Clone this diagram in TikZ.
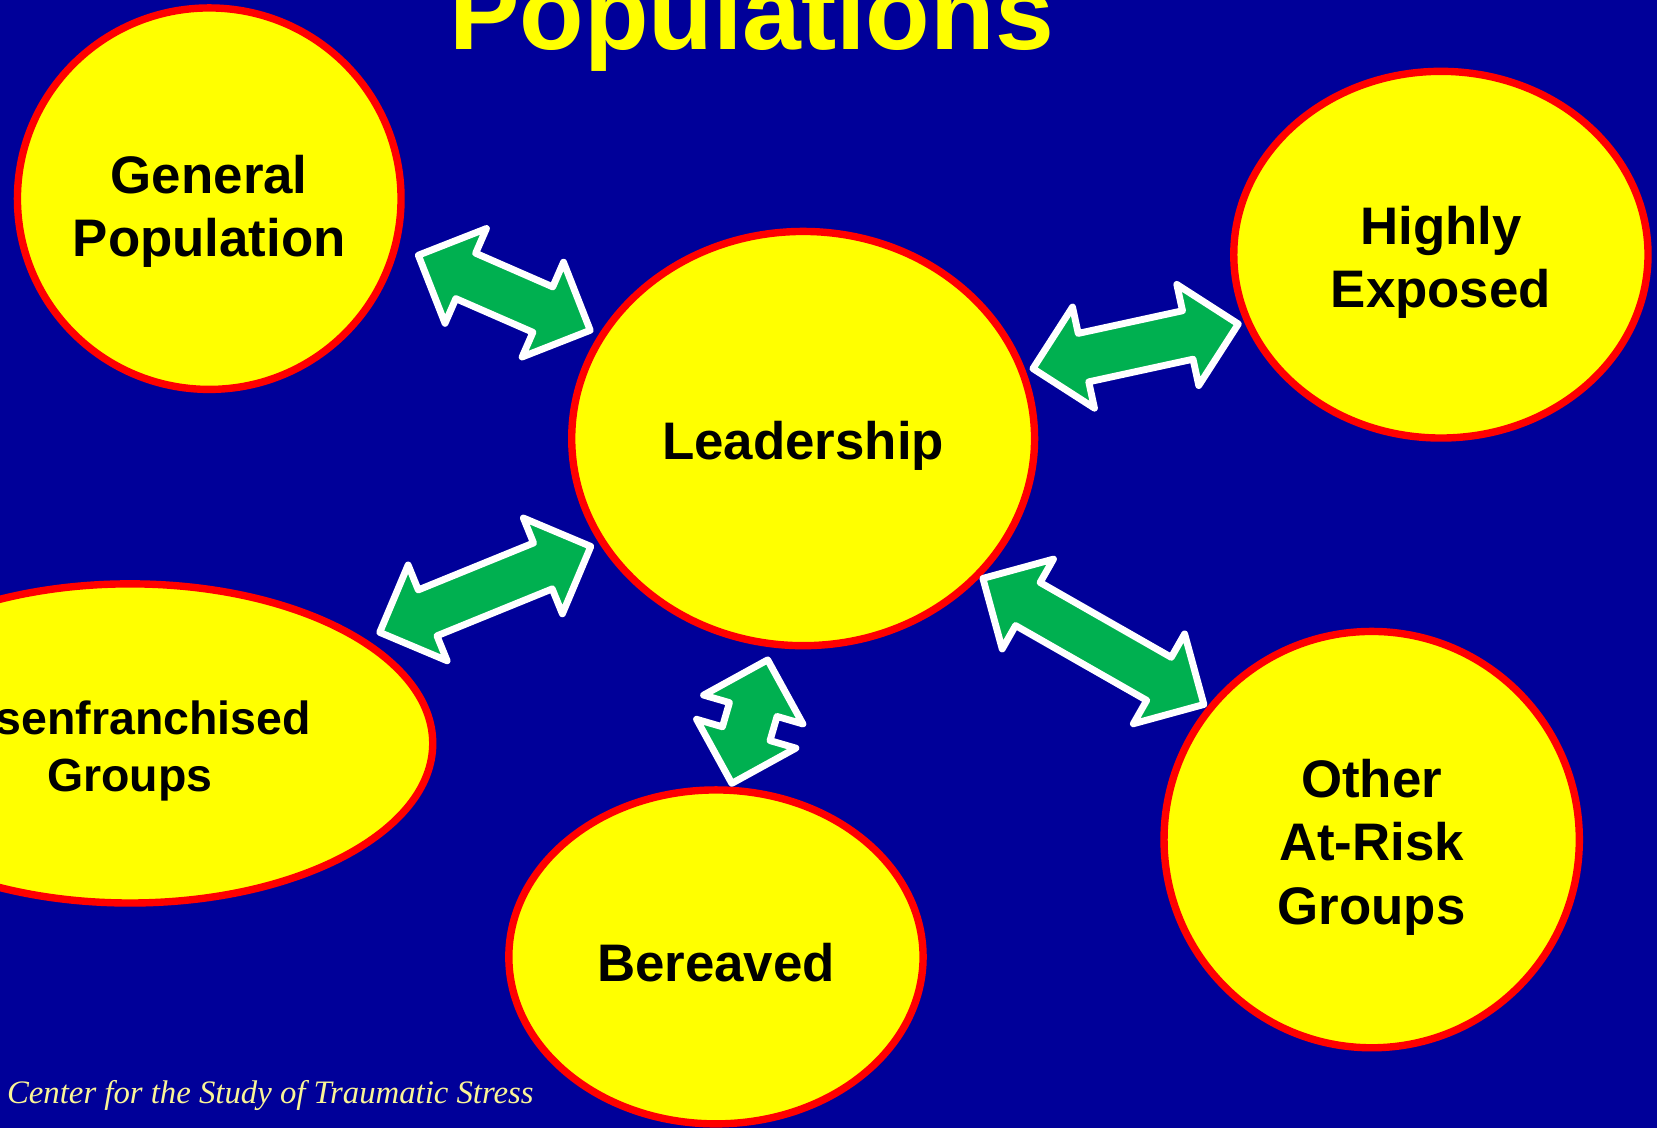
\documentclass[tikz,border=0pt]{standalone}
\usepackage{fontspec}
\setmainfont{Liberation Sans}
\newfontfamily\creditfont{Liberation Serif}
\usetikzlibrary{shapes.geometric,shapes.arrows,calc}

\definecolor{slideblue}{RGB}{0,0,153}
\definecolor{popyellow}{RGB}{255,255,0}
\definecolor{popred}{RGB}{255,0,0}
\definecolor{popgreen}{RGB}{0,176,80}
\definecolor{creditcream}{RGB}{250,245,150}

\tikzset{
  pop/.style={ellipse, fill=popyellow, draw=popred, line width=7pt,
    inner sep=0pt, outer sep=0pt},
  poptext/.style={inner sep=0pt, align=center,
    font=\bfseries\fontsize{50}{60}\selectfont},
  twoway/.style={double arrow, double arrow head extend=25.5pt,
    text height=20.2pt, text depth=20.2pt, inner sep=0pt,
    fill=popgreen, draw=white, line width=6.5pt, line join=round}
}

\begin{document}
\begin{tikzpicture}[x=1pt, y=-1pt]

  \newcommand\Twoway[2]{%
    \path let \p1=(#1), \p2=(#2),
      \n1={atan2(\y2-\y1,\x2-\x1)}, \n2={veclen(\x2-\x1,\y2-\y1)} in
      node[twoway, rotate=\n1, minimum height={\n2-6.5}] at ($(\p1)!0.5!(\p2)$) {};}

  \useasboundingbox (0,0) rectangle (1568,1067);
  \fill[slideblue] (0,0) rectangle (1568,1067);

  % title, cut by the top edge
  \node[anchor=base, text=popyellow, font=\bfseries\fontsize{100}{120}\selectfont] (title) at (711,47) {Populations};

  % populations
  \node[pop, minimum width=363, minimum height=361] (gen) at (198,188) {};
  \node[pop, minimum width=438, minimum height=392] (lead) at (760,415) {};
  \node[pop, minimum width=392, minimum height=347] (high) at (1363.5,241) {};
  \node[pop, minimum width=573, minimum height=302] (dis) at (123,703.5) {};
  \node[pop, minimum width=392, minimum height=316] (ber) at (677.5,905.5) {};
  \node[pop, minimum width=393, minimum height=394] (other) at (1298,794.5) {};

  \node[poptext] (gentext) at ([yshift=-12pt]gen) {General\\Population};
  \node[poptext] (leadtext) at ([yshift=-7pt]lead) {Leadership};
  \node[poptext] (hightext) at ([yshift=-7pt]high) {Highly\\Exposed};
  \node[poptext, font=\bfseries\fontsize{44}{54}\selectfont] (distext) at ([yshift=-7pt]dis) {Disenfranchised\\Groups};
  \node[poptext] (bertext) at ([yshift=-5pt]ber) {Bereaved};
  \node[poptext] (othertext) at ([yshift=-7pt]other) {Other\\At-Risk\\Groups};

  % two-way links
  \Twoway{$(gen)!1.112!(gen.-15.1)$}{$(lead)!1.043!(lead.153.8)$}
  \Twoway{$(dis)!1.066!(dis.24.7)$}{$(lead)!1.040!(lead.207.4)$}
  \Twoway{$(lead)!1.034!(lead.17.9)$}{$(high)!1.032!(high.199)$}
  \Twoway{$(lead)!1.063!(lead.-99.4)$}{$(ber)!1.022!(ber.85.3)$}
  \Twoway{$(lead)!1.014!(lead.-38.6)$}{$(other)!1.020!(other.141.8)$}

  \node[anchor=base west, inner sep=0pt, text=creditcream, font=\creditfont\itshape\fontsize{31}{37}\selectfont] (credit) at (6.5,1044) {Center for the Study of Traumatic Stress};

\end{tikzpicture}
\end{document}
